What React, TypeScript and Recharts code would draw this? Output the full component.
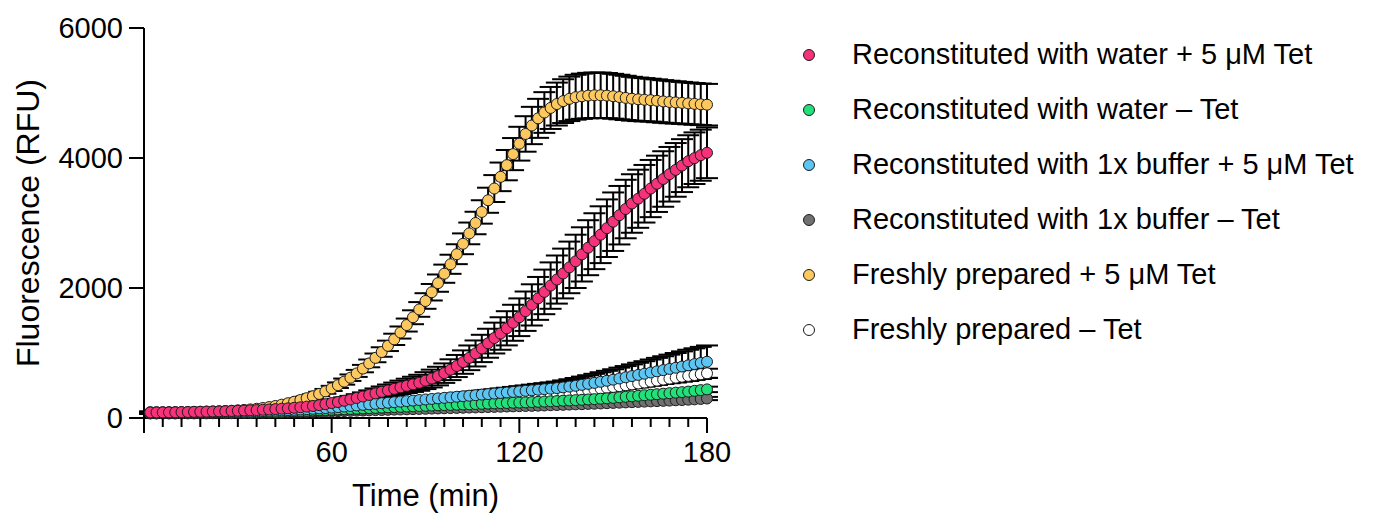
import { ScatterChart, Scatter, XAxis, YAxis, ErrorBar } from "recharts";

// Sampling times (min), one reading every 2 min
const TIME = [
  2, 4, 6, 8, 10, 12, 14, 16, 18, 20,
  22, 24, 26, 28, 30, 32, 34, 36, 38, 40,
  42, 44, 46, 48, 50, 52, 54, 56, 58, 60,
  62, 64, 66, 68, 70, 72, 74, 76, 78, 80,
  82, 84, 86, 88, 90, 92, 94, 96, 98, 100,
  102, 104, 106, 108, 110, 112, 114, 116, 118, 120,
  122, 124, 126, 128, 130, 132, 134, 136, 138, 140,
  142, 144, 146, 148, 150, 152, 154, 156, 158, 160,
  162, 164, 166, 168, 170, 172, 174, 176, 178, 180,
];

// Mean fluorescence (RFU)
const WATER_TET = [
  85, 85, 86, 87, 88, 90, 92, 94, 96, 98,
  100, 102, 105, 108, 111, 114, 118, 122, 127, 131,
  137, 143, 149, 157, 165, 175, 185, 198, 213, 230,
  246, 265, 285, 308, 331, 355, 378, 402, 425, 448,
  472, 495, 518, 542, 575, 607, 645, 690, 743, 800,
  860, 926, 993, 1070, 1150, 1230, 1300, 1380, 1465, 1550,
  1643, 1740, 1840, 1940, 2037, 2130, 2223, 2317, 2410, 2517,
  2620, 2720, 2820, 2920, 3020, 3120, 3215, 3300, 3373, 3450,
  3530, 3603, 3677, 3750, 3817, 3883, 3950, 3997, 4043, 4080,
];
const WATER_NOTET = [
  75, 75, 75, 75, 76, 76, 76, 77, 77, 78,
  79, 80, 81, 82, 84, 85, 87, 89, 91, 94,
  96, 99, 102, 105, 108, 112, 116, 120, 124, 128,
  132, 136, 140, 144, 148, 152, 156, 160, 164, 168,
  172, 176, 180, 184, 188, 191, 195, 198, 201, 205,
  208, 211, 215, 218, 221, 225, 228, 231, 235, 238,
  241, 245, 249, 253, 257, 261, 266, 270, 275, 280,
  285, 290, 297, 303, 310, 318, 326, 334, 342, 350,
  358, 366, 374, 382, 390, 398, 406, 418, 429, 440,
];
const BUFFER_TET = [
  80, 80, 80, 81, 81, 82, 82, 83, 84, 86,
  88, 89, 91, 93, 95, 98, 100, 103, 106, 110,
  113, 117, 121, 126, 131, 136, 141, 147, 153, 160,
  168, 176, 185, 193, 202, 210, 218, 227, 235, 243,
  252, 260, 268, 277, 285, 293, 302, 310, 318, 327,
  335, 343, 351, 360, 368, 376, 385, 393, 401, 410,
  418, 426, 435, 443, 451, 460, 471, 483, 495, 510,
  525, 540, 557, 573, 590, 608, 626, 645, 663, 681,
  700, 718, 737, 755, 773, 792, 810, 829, 847, 866,
];
const BUFFER_NOTET = [
  70, 70, 70, 70, 70, 71, 71, 71, 72, 72,
  73, 73, 74, 74, 75, 76, 77, 78, 79, 81,
  82, 84, 86, 88, 90, 92, 94, 96, 99, 102,
  105, 107, 110, 113, 115, 118, 121, 123, 126, 129,
  131, 134, 137, 139, 142, 145, 147, 150, 153, 155,
  158, 161, 163, 166, 169, 171, 174, 177, 179, 182,
  185, 187, 190, 193, 197, 200, 203, 207, 210, 213,
  217, 220, 224, 228, 232, 236, 240, 244, 248, 252,
  256, 260, 264, 268, 273, 277, 282, 287, 293, 300,
];
const FRESH_TET = [
  90, 90, 90, 90, 91, 92, 93, 95, 96, 99,
  101, 104, 108, 112, 118, 124, 132, 142, 154, 168,
  185, 205, 227, 250, 277, 305, 335, 370, 410, 455,
  505, 560, 620, 686, 760, 840, 925, 1015, 1110, 1210,
  1315, 1430, 1550, 1670, 1800, 1935, 2075, 2220, 2365, 2520,
  2680, 2840, 3000, 3170, 3350, 3530, 3710, 3890, 4060, 4220,
  4370, 4500, 4610, 4700, 4770, 4830, 4875, 4910, 4935, 4950,
  4960, 4965, 4965, 4960, 4950, 4938, 4925, 4912, 4903, 4896,
  4890, 4880, 4870, 4862, 4855, 4848, 4840, 4833, 4826, 4820,
];
const FRESH_NOTET = [
  75, 75, 75, 75, 75, 76, 76, 76, 77, 77,
  78, 79, 79, 80, 82, 83, 84, 86, 88, 90,
  92, 95, 97, 100, 103, 107, 110, 114, 118, 122,
  126, 131, 135, 140, 145, 150, 155, 161, 166, 172,
  178, 184, 190, 196, 202, 209, 215, 222, 229, 236,
  243, 250, 258, 265, 273, 281, 289, 298, 306, 315,
  324, 334, 343, 353, 363, 373, 384, 394, 405, 416,
  428, 440, 452, 464, 477, 490, 504, 517, 531, 546,
  560, 575, 591, 606, 621, 635, 648, 661, 675, 688,
];

// Standard deviations (RFU)
const WATER_TET_SD = [
  15, 15, 15, 15, 15, 15, 15, 15, 15, 15,
  15, 15, 15, 15, 15, 16, 17, 18, 19, 21,
  22, 24, 25, 27, 29, 32, 35, 37, 40, 45,
  48, 52, 55, 58, 63, 70, 77, 83, 90, 97,
  103, 110, 117, 123, 130, 137, 143, 150, 160, 170,
  180, 190, 200, 210, 223, 237, 250, 263, 277, 290,
  303, 317, 330, 343, 357, 370, 383, 397, 410, 417,
  423, 430, 437, 443, 450, 450, 450, 450, 447, 443,
  440, 433, 427, 420, 413, 407, 400, 397, 393, 390,
];
const WATER_NOTET_SD = [
  8, 8, 8, 8, 8, 8, 8, 8, 8, 8,
  8, 8, 8, 8, 8, 8, 8, 9, 9, 9,
  10, 10, 10, 11, 11, 11, 12, 12, 12, 13,
  13, 13, 14, 14, 14, 15, 15, 15, 16, 16,
  16, 17, 17, 17, 18, 18, 18, 19, 19, 19,
  20, 20, 20, 21, 21, 21, 22, 22, 22, 23,
  23, 24, 25, 25, 26, 27, 27, 28, 29, 29,
  30, 31, 31, 32, 33, 33, 34, 35, 35, 36,
  37, 37, 38, 39, 39, 40, 41, 41, 42, 42,
];
const BUFFER_TET_SD = [
  10, 10, 10, 10, 10, 10, 10, 10, 10, 10,
  10, 10, 10, 10, 10, 10, 10, 10, 10, 10,
  10, 11, 11, 12, 12, 13, 14, 15, 16, 17,
  18, 20, 21, 23, 24, 26, 27, 29, 30, 32,
  33, 35, 36, 38, 40, 42, 44, 46, 48, 50,
  53, 55, 58, 61, 64, 67, 70, 73, 77, 80,
  83, 87, 90, 93, 97, 100, 107, 113, 120, 127,
  133, 140, 147, 153, 160, 167, 173, 180, 187, 193,
  200, 207, 213, 220, 227, 233, 240, 243, 247, 250,
];
const BUFFER_NOTET_SD = [
  8, 8, 8, 8, 8, 8, 8, 8, 8, 8,
  8, 8, 8, 8, 8, 8, 8, 8, 9, 9,
  9, 9, 9, 10, 10, 10, 10, 11, 11, 11,
  11, 12, 12, 12, 12, 13, 13, 13, 13, 14,
  14, 14, 14, 15, 15, 15, 15, 16, 16, 16,
  16, 17, 17, 17, 17, 18, 18, 18, 18, 19,
  19, 19, 19, 20, 20, 20, 20, 21, 21, 21,
  21, 22, 22, 22, 22, 23, 23, 23, 23, 24,
  24, 24, 24, 24, 25, 25, 25, 25, 25, 25,
];
const FRESH_TET_SD = [
  10, 10, 10, 10, 10, 10, 10, 10, 10, 10,
  10, 10, 10, 10, 10, 11, 11, 12, 13, 14,
  15, 17, 19, 22, 24, 27, 30, 33, 37, 40,
  43, 47, 50, 54, 57, 60, 67, 73, 80, 87,
  93, 100, 107, 113, 120, 127, 133, 140, 147, 153,
  160, 167, 173, 180, 193, 207, 220, 233, 247, 260,
  273, 287, 300, 313, 323, 330, 337, 342, 345, 348,
  350, 350, 350, 348, 345, 343, 340, 337, 335, 333,
  330, 330, 328, 327, 325, 323, 322, 321, 320, 320,
];
const FRESH_NOTET_SD = [
  8, 8, 8, 8, 8, 8, 8, 8, 8, 8,
  8, 8, 8, 9, 9, 9, 9, 10, 10, 10,
  10, 11, 11, 11, 12, 12, 12, 13, 13, 13,
  14, 14, 15, 15, 16, 16, 17, 17, 18, 18,
  19, 19, 20, 21, 21, 22, 23, 23, 24, 25,
  25, 26, 27, 28, 29, 29, 30, 31, 32, 33,
  34, 35, 37, 38, 40, 41, 43, 44, 46, 47,
  49, 50, 52, 53, 55, 56, 58, 59, 61, 62,
  63, 64, 65, 66, 66, 67, 68, 68, 69, 70,
];

const X_TICKS = [
  0, 6, 12, 18, 24, 30, 36, 42, 48, 54, 60, 66, 72, 78, 84, 90, 96, 102, 108, 114, 120,
  126, 132, 138, 144, 150, 156, 162, 168, 174, 180,
];
const X_LABELS = [60, 120, 180];
const Y_TICKS = [0, 2000, 4000, 6000];

const FONT = "'Liberation Sans', Arial, Helvetica, sans-serif";

interface Series {
  name: string;
  color: string;
  mean: number[];
  sd: number[];
}

// legend order
const SERIES: Series[] = [
  { name: "Reconstituted with water + 5 \u03bcM Tet", color: "#F5327A", mean: WATER_TET, sd: WATER_TET_SD },
  { name: "Reconstituted with water \u2013 Tet", color: "#22E07A", mean: WATER_NOTET, sd: WATER_NOTET_SD },
  { name: "Reconstituted with 1x buffer + 5 \u03bcM Tet", color: "#5CC5F2", mean: BUFFER_TET, sd: BUFFER_TET_SD },
  { name: "Reconstituted with 1x buffer \u2013 Tet", color: "#707070", mean: BUFFER_NOTET, sd: BUFFER_NOTET_SD },
  { name: "Freshly prepared + 5 \u03bcM Tet", color: "#FDC95E", mean: FRESH_TET, sd: FRESH_TET_SD },
  { name: "Freshly prepared \u2013 Tet", color: "#FFFFFF", mean: FRESH_NOTET, sd: FRESH_NOTET_SD },
];

// painted bottom to top
const DRAW_ORDER = [3, 5, 1, 2, 4, 0];

function toPoints(s: Series) {
  return TIME.map((t, i) => ({ t, v: s.mean[i], e: s.sd[i] }));
}

function XTick(props: any) {
  const { x, y, payload } = props;
  const v = payload.value as number;
  const major = v % 60 === 0;
  return (
    <g>
      <line x1={x} x2={x} y1={y} y2={y + (major ? 15 : 9)} stroke="#000" strokeWidth={2} />
      {X_LABELS.includes(v) && (
        <text x={x} y={y + 44} textAnchor="middle" fontSize={29} fill="#000" fontFamily={FONT}>
          {v}
        </text>
      )}
    </g>
  );
}

function dot(fill: string) {
  return (p: any) => (
    <circle cx={p.cx} cy={p.cy} r={5.5} fill={fill} stroke="#1c1c1c" strokeWidth={1} />
  );
}

export default function App() {
  return (
    <div style={{ position: "absolute", left: 0, top: 0, width: 1380, height: 519, background: "#fff", fontFamily: FONT }}>
      <ScatterChart width={1380} height={519} margin={{ top: 28, right: 673, bottom: 0, left: 0 }}>
        <XAxis
          type="number"
          dataKey="t"
          domain={[0, 180]}
          ticks={X_TICKS}
          interval={0}
          tickSize={0}
          tickMargin={0}
          tickLine={false}
          tick={<XTick />}
          height={101}
          axisLine={{ stroke: "#000", strokeWidth: 2 }}
          label={{ value: "Time (min)", position: "insideBottom", offset: 13, fontSize: 31, fill: "#000" }}
        />
        <YAxis
          type="number"
          dataKey="v"
          domain={[0, 6000]}
          ticks={Y_TICKS}
          interval={0}
          width={144}
          tickSize={15}
          tickMargin={6}
          tick={{ fontSize: 29, fill: "#000" }}
          tickLine={{ stroke: "#000", strokeWidth: 2 }}
          axisLine={{ stroke: "#000", strokeWidth: 2 }}
          label={{ value: "Fluorescence (RFU)", angle: -90, position: "center", dx: -44, fontSize: 32, fill: "#000" }}
        />
        {DRAW_ORDER.map((idx) => {
          const s = SERIES[idx];
          return (
            <Scatter
              key={s.name}
              name={s.name}
              data={toPoints(s)}
              dataKey="v"
              isAnimationActive={false}
              shape={dot(s.color)}
            >
              <ErrorBar dataKey="e" direction="y" width={11} stroke="#000" strokeWidth={2} isAnimationActive={false} />
            </Scatter>
          );
        })}
      </ScatterChart>

      <div style={{ position: "absolute", left: 795, top: 27 }}>
        {SERIES.map((s) => (
          <div key={s.name} style={{ height: 55, display: "flex", alignItems: "center" }}>
            <svg width={28} height={16} style={{ flex: "none" }}>
              <circle cx={14} cy={8} r={5.5} fill={s.color} stroke="#1c1c1c" strokeWidth={1} />
            </svg>
            <span style={{ marginLeft: 29, fontSize: 29, color: "#000", whiteSpace: "nowrap" }}>{s.name}</span>
          </div>
        ))}
      </div>
    </div>
  );
}
